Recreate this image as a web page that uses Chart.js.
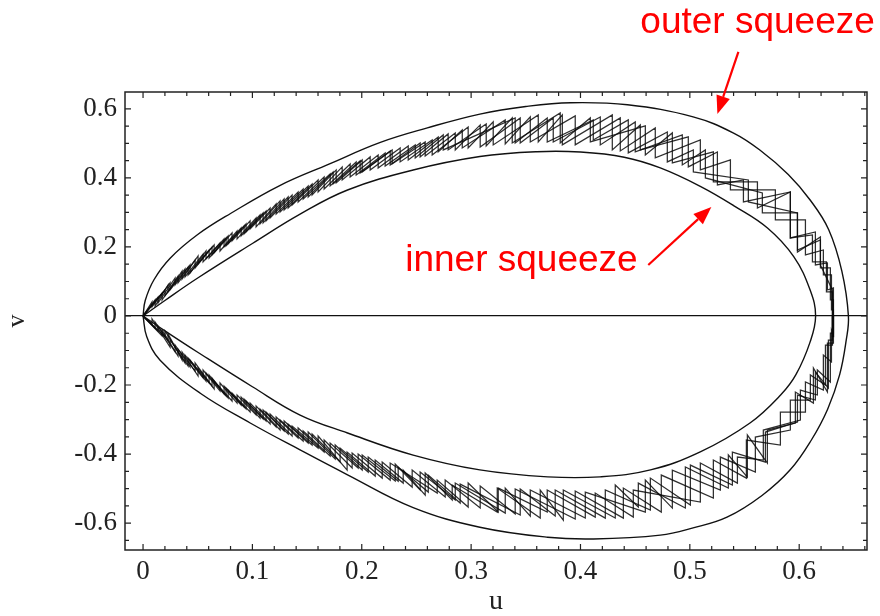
<!DOCTYPE html>
<html>
<head>
<meta charset="utf-8">
<script src="https://cdn.jsdelivr.net/npm/chart.js@4.4.1/dist/chart.umd.min.js"></script>
<style>
  html, body { margin: 0; padding: 0; background: #fff; }
  #chart-wrapper { width: 880px; height: 616px; }
</style>
</head>
<body>
<div id="chart-wrapper"><canvas id="chart" width="880" height="616"></canvas></div>
<script>
// tick labels
const uTicks = [0, 0.1, 0.2, 0.3, 0.4, 0.5, 0.6];
const vTicks = [-0.6, -0.4, -0.2, 0, 0.2, 0.4, 0.6];

// outer squeeze boundary (goes round from origin)
const outerU = [0, 0.002, 0.01, 0.025, 0.05, 0.08, 0.125, 0.17, 0.217, 0.26, 0.308, 0.35, 0.391, 0.443, 0.503, 0.54, 0.564, 0.59, 0.61, 0.627, 0.639, 0.645, 0.643, 0.637, 0.626, 0.611, 0.592, 0.566, 0.534, 0.503, 0.473, 0.412, 0.37, 0.308, 0.247, 0.187, 0.1436, 0.098, 0.052, 0.0156, 0.0034, 0];
const outerV = [0, 0.045, 0.105, 0.168, 0.236, 0.297, 0.378, 0.44, 0.503, 0.545, 0.585, 0.607, 0.618, 0.612, 0.577, 0.53, 0.481, 0.41, 0.336, 0.25, 0.13, 0, -0.07, -0.17, -0.27, -0.36, -0.445, -0.52, -0.583, -0.614, -0.635, -0.646, -0.641, -0.612, -0.555, -0.46, -0.388, -0.31, -0.223, -0.128, -0.06, 0];

// inner squeeze boundary
const innerU = [0, 0.02, 0.05, 0.1, 0.1436, 0.187, 0.247, 0.308, 0.36, 0.4, 0.44, 0.473, 0.51, 0.54, 0.571, 0.595, 0.61, 0.615, 0.61, 0.597, 0.583, 0.555, 0.51, 0.464, 0.418, 0.37, 0.308, 0.247, 0.187, 0.1436, 0.1, 0.05, 0.02, 0];
const innerV = [0, 0.045, 0.11, 0.21, 0.295, 0.365, 0.423, 0.462, 0.476, 0.475, 0.46, 0.429, 0.375, 0.32, 0.255, 0.172, 0.075, 0, -0.075, -0.17, -0.229, -0.31, -0.393, -0.446, -0.466, -0.466, -0.446, -0.403, -0.339, -0.287, -0.205, -0.105, -0.043, 0];

// upper runs: u of each jump, v before jump (outer side), v after jump (inner side)
const topA_u = [0.011, 0.0229, 0.0357, 0.0503, 0.065, 0.0814, 0.0979, 0.1162, 0.1363, 0.1601, 0.1821, 0.2077, 0.2351, 0.2644, 0.2973, 0.3202, 0.3614, 0.3834, 0.4291, 0.4547, 0.4986, 0.5252, 0.549, 0.5919, 0.6148, 0.6258, 0.6313];
const topA_hi = [0.0464, 0.0899, 0.1304, 0.1739, 0.2058, 0.2406, 0.2754, 0.313, 0.3507, 0.3942, 0.4319, 0.4609, 0.487, 0.5101, 0.5478, 0.5623, 0.5826, 0.5826, 0.5826, 0.5536, 0.5188, 0.4754, 0.3942, 0.3594, 0.2435, 0.1536, 0.0812];
const topA_lo = [0.029, 0.0696, 0.1072, 0.1507, 0.1826, 0.2174, 0.2522, 0.2841, 0.3217, 0.3594, 0.3942, 0.4232, 0.4464, 0.4667, 0.487, 0.4957, 0.5043, 0.4957, 0.4812, 0.4812, 0.4319, 0.3797, 0.3304, 0.2261, 0.1478, 0.0754, -0.0609];

const topB_u = [0.0137, 0.0293, 0.043, 0.0576, 0.0741, 0.0897, 0.107, 0.1253, 0.1464, 0.1711, 0.1949, 0.2214, 0.2489, 0.2745, 0.3403, 0.3696, 0.4117, 0.4437, 0.4794, 0.5032, 0.5535, 0.5984, 0.6194, 0.6304];
const topB_hi = [0.0551, 0.1101, 0.1478, 0.1884, 0.2232, 0.2551, 0.2928, 0.3333, 0.3681, 0.4116, 0.4464, 0.4725, 0.4957, 0.5246, 0.5739, 0.5739, 0.5681, 0.5681, 0.5333, 0.4812, 0.3942, 0.2986, 0.229, 0.0754];
const topB_lo = [0.0377, 0.0899, 0.1246, 0.1652, 0.2, 0.2319, 0.2667, 0.3014, 0.3391, 0.3768, 0.4087, 0.4348, 0.458, 0.4812, 0.5014, 0.5043, 0.5101, 0.4725, 0.4464, 0.4174, 0.3304, 0.1855, 0.1478, -0.0609];

const topC_u = [0.0174, 0.032, 0.0476, 0.0631, 0.0778, 0.0942, 0.1125, 0.1327, 0.1546, 0.1766, 0.2004, 0.2278, 0.258, 0.2855, 0.3083, 0.3449, 0.3751, 0.4181, 0.4501, 0.4931, 0.5142, 0.5663, 0.5984, 0.6194, 0.6285, 0.6313];
const topC_hi = [0.0667, 0.1159, 0.1623, 0.2, 0.2319, 0.2667, 0.3043, 0.3449, 0.3826, 0.4232, 0.4522, 0.4812, 0.5043, 0.5304, 0.5536, 0.5739, 0.5739, 0.5768, 0.5623, 0.5246, 0.4812, 0.3565, 0.2986, 0.2203, 0.1391, 0.0464];
const topC_lo = [0.0464, 0.0957, 0.1391, 0.1768, 0.2087, 0.2435, 0.2754, 0.313, 0.3507, 0.3855, 0.4174, 0.4406, 0.4638, 0.4812, 0.4899, 0.5014, 0.5043, 0.4957, 0.4754, 0.4377, 0.4, 0.2986, 0.1913, 0.1391, 0.0464, -0.0609];

const topD_u = [0.0201, 0.0384, 0.0549, 0.0704, 0.086, 0.1034, 0.1217, 0.1418, 0.1656, 0.1894, 0.215, 0.2425, 0.2699, 0.2919, 0.3312, 0.3541, 0.3952, 0.4364, 0.4684, 0.5096, 0.5371, 0.5782, 0.6057, 0.6221, 0.6295, 0.6313];
const topD_hi = [0.0754, 0.1362, 0.1797, 0.2116, 0.2464, 0.2841, 0.3246, 0.3594, 0.4029, 0.4406, 0.4667, 0.4928, 0.5188, 0.5391, 0.5681, 0.5768, 0.5797, 0.5739, 0.5449, 0.5101, 0.4522, 0.3652, 0.2783, 0.1913, 0.1188, 0.0174];
const topD_lo = [0.058, 0.113, 0.1565, 0.1884, 0.2232, 0.258, 0.2957, 0.3304, 0.3681, 0.4029, 0.429, 0.4522, 0.4754, 0.487, 0.4986, 0.5043, 0.4957, 0.4783, 0.458, 0.4232, 0.3652, 0.2783, 0.1768, 0.1188, 0.0174, -0.0609];

const topE_u = [0.0082, 0.0247, 0.0412, 0.0604, 0.0759, 0.0924, 0.1098, 0.129, 0.151, 0.1738, 0.1985, 0.226, 0.2534, 0.279, 0.3138, 0.3376, 0.3815, 0.409, 0.4593, 0.484, 0.5215, 0.5618, 0.5919, 0.6121, 0.6249, 0.6304];
const topE_hi = [0.0406, 0.0957, 0.142, 0.1913, 0.2261, 0.2609, 0.2986, 0.3391, 0.3768, 0.4174, 0.4493, 0.4783, 0.5014, 0.5275, 0.5565, 0.5739, 0.5884, 0.5739, 0.5507, 0.5304, 0.4754, 0.3884, 0.3594, 0.2348, 0.1565, 0.0696];
const topE_lo = [0.0261, 0.0754, 0.1188, 0.1681, 0.2029, 0.2377, 0.2696, 0.3072, 0.3449, 0.3826, 0.4145, 0.4377, 0.4609, 0.4812, 0.4928, 0.5014, 0.5014, 0.5043, 0.4667, 0.4435, 0.3884, 0.313, 0.2261, 0.1565, 0.0696, -0.0406];

// lower runs: u of each jump, v before jump (outer side), v after jump (inner side)
const botA_u = [0.011, 0.0229, 0.0357, 0.0503, 0.065, 0.0814, 0.0979, 0.1162, 0.1363, 0.1601, 0.1866, 0.2123, 0.2379, 0.258, 0.2827, 0.3239, 0.3632, 0.3843, 0.4318, 0.4529, 0.4959, 0.5352, 0.5526, 0.5709, 0.5965, 0.613, 0.6258, 0.6313];
const botA_out = [-0.0348, -0.0725, -0.1275, -0.1739, -0.2116, -0.2464, -0.2783, -0.313, -0.3478, -0.3826, -0.4464, -0.4638, -0.4841, -0.5188, -0.5333, -0.5681, -0.5855, -0.5913, -0.5855, -0.5536, -0.5565, -0.4986, -0.4667, -0.4261, -0.3101, -0.2522, -0.2203, -0.0783];
const botA_in = [-0.0174, -0.0522, -0.1043, -0.1507, -0.1884, -0.2232, -0.2522, -0.2841, -0.3188, -0.3478, -0.3942, -0.4174, -0.4464, -0.4551, -0.4899, -0.4986, -0.5043, -0.5043, -0.4899, -0.4841, -0.4377, -0.4029, -0.3449, -0.3304, -0.2203, -0.1507, -0.0783, 0];

const botB_u = [0.0137, 0.0293, 0.043, 0.0576, 0.0741, 0.0897, 0.107, 0.1253, 0.1464, 0.1711, 0.1967, 0.226, 0.269, 0.2973, 0.3248, 0.3696, 0.4135, 0.4483, 0.5096, 0.5435, 0.5672, 0.6011, 0.6166, 0.6285, 0.6313];
const botB_out = [-0.0435, -0.1043, -0.1478, -0.1884, -0.2261, -0.258, -0.2957, -0.3304, -0.3623, -0.4058, -0.4406, -0.4754, -0.513, -0.5536, -0.5681, -0.5681, -0.5826, -0.5826, -0.5391, -0.4841, -0.4174, -0.3014, -0.229, -0.1913, -0.0493];
const botB_in = [-0.029, -0.0841, -0.1275, -0.1652, -0.2029, -0.2348, -0.2696, -0.3014, -0.3333, -0.3681, -0.4, -0.4261, -0.4754, -0.4841, -0.4986, -0.5043, -0.513, -0.5043, -0.4261, -0.4087, -0.3304, -0.2145, -0.1565, -0.0493, 0];

const botC_u = [0.0174, 0.032, 0.0476, 0.0631, 0.0778, 0.0942, 0.1125, 0.1327, 0.1546, 0.1802, 0.2059, 0.2333, 0.2608, 0.29, 0.3449, 0.3769, 0.4227, 0.4639, 0.5005, 0.5389, 0.5691, 0.5984, 0.6148, 0.6267, 0.6304];
const botC_out = [-0.058, -0.1159, -0.1594, -0.2029, -0.2377, -0.2696, -0.3043, -0.342, -0.3739, -0.4232, -0.4522, -0.4783, -0.5101, -0.542, -0.5768, -0.5797, -0.5855, -0.5623, -0.5478, -0.4899, -0.4232, -0.3072, -0.2435, -0.2087, -0.0696];
const botC_in = [-0.0406, -0.0957, -0.1362, -0.1797, -0.2145, -0.2464, -0.2783, -0.313, -0.342, -0.3826, -0.4087, -0.4377, -0.4609, -0.487, -0.5014, -0.5043, -0.5043, -0.4696, -0.4319, -0.3942, -0.3362, -0.229, -0.1623, -0.0696, 0];

const botD_u = [0.0201, 0.0384, 0.0549, 0.0704, 0.086, 0.1034, 0.1217, 0.1418, 0.1656, 0.1912, 0.2187, 0.2461, 0.2763, 0.3083, 0.3403, 0.3952, 0.4392, 0.4739, 0.5215, 0.5517, 0.5828, 0.6057, 0.6221, 0.6295, 0.6313];
const botD_out = [-0.0609, -0.1362, -0.1797, -0.2174, -0.2522, -0.287, -0.3217, -0.3536, -0.3942, -0.4406, -0.4696, -0.4957, -0.5246, -0.5565, -0.5739, -0.5884, -0.5855, -0.5681, -0.5275, -0.4696, -0.3739, -0.2783, -0.2145, -0.1333, -0.0551];
const botD_in = [-0.0435, -0.113, -0.1565, -0.1942, -0.229, -0.2609, -0.2928, -0.3246, -0.3594, -0.3971, -0.4232, -0.4464, -0.4754, -0.4928, -0.5014, -0.5072, -0.4986, -0.4609, -0.4174, -0.3594, -0.2783, -0.1913, -0.113, -0.0406, 0];

const botE_u = [0.0082, 0.0247, 0.0412, 0.0604, 0.0759, 0.0924, 0.1098, 0.129, 0.151, 0.1757, 0.2004, 0.2306, 0.2534, 0.2855, 0.3312, 0.3541, 0.4044, 0.4593, 0.484, 0.5279, 0.5599, 0.5919, 0.6102, 0.624, 0.6304];
const botE_out = [-0.0232, -0.0899, -0.1449, -0.1942, -0.2319, -0.2638, -0.2986, -0.3333, -0.3681, -0.4145, -0.4464, -0.4783, -0.5043, -0.5333, -0.571, -0.5797, -0.5855, -0.5681, -0.5565, -0.5043, -0.4522, -0.3304, -0.2435, -0.2, -0.0841];
const botE_in = [-0.0087, -0.0696, -0.1217, -0.171, -0.2087, -0.2406, -0.2725, -0.3043, -0.3362, -0.3739, -0.4029, -0.429, -0.4522, -0.4841, -0.4986, -0.5043, -0.5101, -0.4754, -0.4464, -0.4087, -0.3507, -0.2435, -0.171, -0.0841, 0];

// callouts, in data units
const labels = [
  { text: "outer squeeze", u: 0.4547, v: 0.8203 },
  { text: "inner squeeze", u: 0.2397, v: 0.1304 }
];
const arrows = [
  { from: [0.5444, 0.7652], to: [0.5252, 0.5855] },
  { from: [0.462, 0.1478], to: [0.5197, 0.3159] }
];

const serif = "'Liberation Serif', 'Times New Roman', serif";

const toPoints = (us, vs) => us.map((u, i) => ({ x: u, y: vs[i] }));

// each jump is vertical: first v then second v at the same u
const sawtooth = (us, first, second) => {
  const pts = [{ x: 0, y: 0 }];
  us.forEach((u, i) => {
    pts.push({ x: u, y: first[i] });
    pts.push({ x: u, y: second[i] });
  });
  return pts;
};

const curveStyle = {
  showLine: true, pointRadius: 0, borderColor: "#111", borderWidth: 1.4, tension: 0.4, fill: false
};
const runStyle = {
  showLine: true, pointRadius: 0, borderColor: "rgba(10,10,10,0.85)", borderWidth: 1.25, tension: 0, fill: false
};

const datasets = [
  { label: "outer", data: toPoints(outerU, outerV), ...curveStyle },
  { label: "inner", data: toPoints(innerU, innerV), ...curveStyle },
  { label: "topA", data: sawtooth(topA_u, topA_hi, topA_lo), ...runStyle },
  { label: "topB", data: sawtooth(topB_u, topB_hi, topB_lo), ...runStyle },
  { label: "topC", data: sawtooth(topC_u, topC_hi, topC_lo), ...runStyle },
  { label: "topD", data: sawtooth(topD_u, topD_hi, topD_lo), ...runStyle },
  { label: "topE", data: sawtooth(topE_u, topE_hi, topE_lo), ...runStyle },
  { label: "botA", data: sawtooth(botA_u, botA_out, botA_in), ...runStyle },
  { label: "botB", data: sawtooth(botB_u, botB_out, botB_in), ...runStyle },
  { label: "botC", data: sawtooth(botC_u, botC_out, botC_in), ...runStyle },
  { label: "botD", data: sawtooth(botD_u, botD_out, botD_in), ...runStyle },
  { label: "botE", data: sawtooth(botE_u, botE_out, botE_in), ...runStyle }
];

// box round the plot with inward ticks on all four sides
const frameTicks = {
  id: "frameTicks",
  afterDatasetsDraw(chart) {
    const { ctx, chartArea: a, scales: { x, y } } = chart;
    ctx.save();
    ctx.strokeStyle = "#222";
    ctx.lineWidth = 1.5;
    ctx.strokeRect(a.left, a.top, a.right - a.left, a.bottom - a.top);
    ctx.lineWidth = 1.2;
    ctx.beginPath();
    for (let k = 0; k * 0.02 <= x.max; k++) {
      const px = x.getPixelForValue(k * 0.02);
      const len = k % 5 === 0 ? 6 : 4;
      ctx.moveTo(px, a.bottom); ctx.lineTo(px, a.bottom - len);
      ctx.moveTo(px, a.top); ctx.lineTo(px, a.top + len);
    }
    for (let k = -13; k <= 13; k++) {
      const val = k * 0.05;
      if (val < y.min || val > y.max) continue;
      const py = y.getPixelForValue(val);
      const len = k % 4 === 0 ? 6 : 4;
      ctx.moveTo(a.left, py); ctx.lineTo(a.left + len, py);
      ctx.moveTo(a.right, py); ctx.lineTo(a.right - len, py);
    }
    ctx.stroke();
    ctx.restore();
  }
};

const callouts = {
  id: "callouts",
  afterDraw(chart) {
    const { ctx, scales: { x, y } } = chart;
    ctx.save();
    ctx.fillStyle = "#ff0000";
    ctx.strokeStyle = "#ff0000";
    ctx.font = "37px 'Liberation Sans', Arial, sans-serif";
    ctx.textAlign = "left";
    ctx.textBaseline = "alphabetic";
    labels.forEach((l) => {
      ctx.fillText(l.text, x.getPixelForValue(l.u), y.getPixelForValue(l.v));
    });
    arrows.forEach((ar) => {
      const x0 = x.getPixelForValue(ar.from[0]), y0 = y.getPixelForValue(ar.from[1]);
      const x1 = x.getPixelForValue(ar.to[0]), y1 = y.getPixelForValue(ar.to[1]);
      const ang = Math.atan2(y1 - y0, x1 - x0);
      const head = 18, half = 7;
      const bx = x1 - head * Math.cos(ang), by = y1 - head * Math.sin(ang);
      ctx.lineWidth = 2.2;
      ctx.beginPath();
      ctx.moveTo(x0, y0);
      ctx.lineTo(bx, by);
      ctx.stroke();
      ctx.beginPath();
      ctx.moveTo(x1, y1);
      ctx.lineTo(bx + half * Math.sin(ang), by - half * Math.cos(ang));
      ctx.lineTo(bx - half * Math.sin(ang), by + half * Math.cos(ang));
      ctx.closePath();
      ctx.fill();
    });
    ctx.restore();
  }
};

const fmt = (value) => (value === 0 ? "0" : value.toFixed(1));

new Chart(document.getElementById("chart").getContext("2d"), {
  type: "scatter",
  data: { datasets },
  options: {
    responsive: false,
    animation: false,
    layout: { padding: { top: 92, right: 13, left: 0, bottom: 0 } },
    plugins: { legend: { display: false }, tooltip: { enabled: false } },
    scales: {
      x: {
        type: "linear",
        min: -0.0165,
        max: 0.662,
        afterBuildTicks: (scale) => { scale.ticks = uTicks.map((v) => ({ value: v })); },
        afterFit: (scale) => { scale.height = 66; },
        grid: { display: false, drawTicks: false },
        border: { display: false },
        ticks: { padding: 6, color: "#222", font: { family: serif, size: 27 }, callback: fmt, maxRotation: 0 },
        title: { display: true, text: "u", color: "#222", padding: { top: 0, bottom: 0 }, font: { family: serif, size: 28, lineHeight: 1 } }
      },
      y: {
        type: "linear",
        min: -0.678,
        max: 0.649,
        afterBuildTicks: (scale) => { scale.ticks = vTicks.map((v) => ({ value: v })); },
        afterFit: (scale) => { scale.width = 125; },
        grid: {
          display: true,
          drawTicks: false,
          lineWidth: 1.2,
          color: (c) => (c.tick && c.tick.value === 0 ? "#111" : "rgba(0,0,0,0)")
        },
        border: { display: false },
        ticks: { padding: 8, color: "#222", font: { family: serif, size: 27 }, callback: fmt },
        title: { display: true, text: "v", color: "#222", padding: { top: 4, bottom: 0 }, font: { family: serif, size: 26, lineHeight: 1 } }
      }
    }
  },
  plugins: [frameTicks, callouts]
});
</script>
</body>
</html>
